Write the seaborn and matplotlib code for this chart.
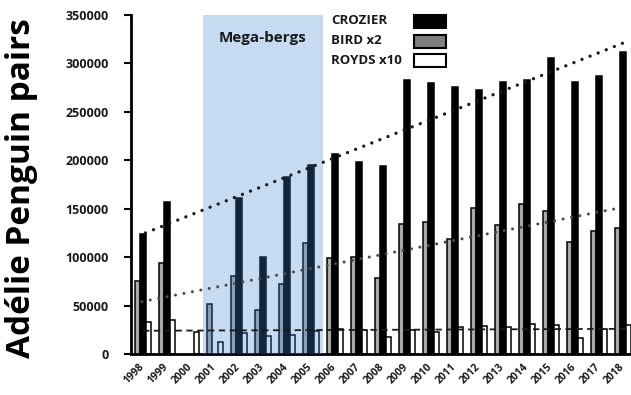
import numpy as np
import pandas as pd
import matplotlib
matplotlib.use("Agg")
import matplotlib.pyplot as plt
from matplotlib.patches import Rectangle
import seaborn as sns

years = [str(y) for y in range(1998, 2019)]
crozier = [124000, 157000, np.nan, np.nan, 161000, 100000, 183000, 195000, 206000, 198000,
           194000, 283000, 280000, 276000, 273000, 281000, 283000, 306000, 281000, 287000, 312000]
bird_x2 = [75000, 94000, np.nan, 52000, 80500, 45500, 72000, 114500, 99000, 100000,
           78500, 134000, 136000, 118500, 150500, 133000, 155000, 147500, 115500, 127000, 130000]
royds_x10 = [33000, 35000, 23000, 12500, 22000, 19000, 20000, 24000, 26000, 25000,
             17500, 25000, 23000, 28000, 29000, 28000, 31000, 30000, 16500, 26000, 30000]
series_names = ["CROZIER", "BIRD x2", "ROYDS x10"]
trend_crozier = [125000, 321000]
trend_bird = [54000, 151000]
trend_royds = [24000, 26000]
span_years = ["2001", "2005"]
yticks = [0, 50000, 100000, 150000, 200000, 250000, 300000, 350000]

df = pd.DataFrame({
    "year": years * 3,
    "series": [series_names[0]] * len(years) + [series_names[1]] * len(years) + [series_names[2]] * len(years),
    "value": crozier + bird_x2 + royds_x10,
})

sns.set_theme(style="white")
plt.rcParams["font.family"] = ["Open Sans", "DejaVu Sans"]

W, H = 631, 395
fig = plt.figure(figsize=(W / 100, H / 100), dpi=100)
ax = fig.add_axes([131 / W, (H - 354) / H, 504 / W, (354 - 15) / H])

bar_order = ["BIRD x2", "CROZIER", "ROYDS x10"]
palette = {"CROZIER": "#000000", "BIRD x2": "#a8a8a8", "ROYDS x10": "#ffffff"}
sns.barplot(data=df, x="year", y="value", hue="series", hue_order=bar_order,
            order=years, palette=palette, edgecolor="black", linewidth=1.1,
            width=0.66, dodge=True, errorbar=None, legend=False, ax=ax, zorder=2)

# Mega-bergs shading (overlay)
i0 = years.index(span_years[0]) - 0.5
i1 = years.index(span_years[1]) + 0.5
ax.axvspan(i0, i1, ymin=0, ymax=1, facecolor="#3b86d2", alpha=0.29, lw=0, zorder=3)
ax.text((i0 + i1) / 2, 326000, "Mega-bergs", ha="center", va="center",
        fontsize=11, fontweight="bold", color="#1a1a1a", zorder=6)

# Trend lines
n = len(years) - 1
ax.plot([0.1, n], trend_crozier, ls=(0, (0.01, 2.6)), lw=2.4, color="#1a1a1a",
        dash_capstyle="round", zorder=4)
ax.plot([-0.05, n - 0.1], trend_bird, ls=(0, (0.01, 2.8)), lw=2.2, color="#4a4a4a",
        dash_capstyle="round", zorder=4)
ax.plot([0.0, n + 0.3], trend_royds, ls=(0, (3.5, 2.5)), lw=1.3, color="#1a1a1a", zorder=4)

ax.set_xlim(-0.5, n + 0.5)
ax.set_ylim(0, 350000)
ax.set_yticks(yticks)
ax.set_yticklabels([str(v) for v in yticks])
ax.set_xlabel("")
ax.set_ylabel("")

for s in ["top", "right"]:
    ax.spines[s].set_visible(False)
for s in ["left", "bottom"]:
    ax.spines[s].set_linewidth(2.0)
    ax.spines[s].set_color("black")

ax.set_xticks(np.arange(len(years)))
ax.set_xticks(np.arange(len(years) + 1) - 0.5, minor=True)
ax.tick_params(axis="x", which="major", length=0, pad=8)
ax.tick_params(axis="x", which="minor", length=4, width=1.5, color="black", direction="out")
ax.tick_params(axis="y", which="major", length=5, width=1.5, color="black", direction="out",
               left=True, pad=11, labelsize=9)
for lab in ax.get_yticklabels():
    lab.set_fontweight("bold")
    lab.set_color("#1a1a1a")
for lab in ax.get_xticklabels():
    lab.set_rotation(45)
    lab.set_ha("right")
    lab.set_va("center")
    lab.set_rotation_mode("anchor")
    lab.set_fontsize(7.5)
    lab.set_fontweight("bold")
    lab.set_color("#1a1a1a")

# Legend (labels left-aligned, swatches to the right)
leg_fill = ["#000000", "#7f7f7f", "#ffffff"]
leg_y = [21, 41, 60]
for name, fc, yc in zip(series_names, leg_fill, leg_y):
    fig.text(331 / W, 1 - yc / H, name, ha="left", va="center", fontsize=9.5,
             fontweight="bold", color="#1a1a1a")
    fig.patches.append(Rectangle((414 / W, 1 - (yc + 6.5) / H), 32 / W, 12.5 / H,
                                 transform=fig.transFigure, facecolor=fc, edgecolor="black",
                                 lw=1.5, figure=fig))

fig.text(22 / W, 1 - 188 / H, "Adélie Penguin pairs", rotation=90, ha="center", va="center",
         fontsize=24, fontweight="bold", color="black")

fig.savefig("out.png", dpi=100, facecolor="white")
